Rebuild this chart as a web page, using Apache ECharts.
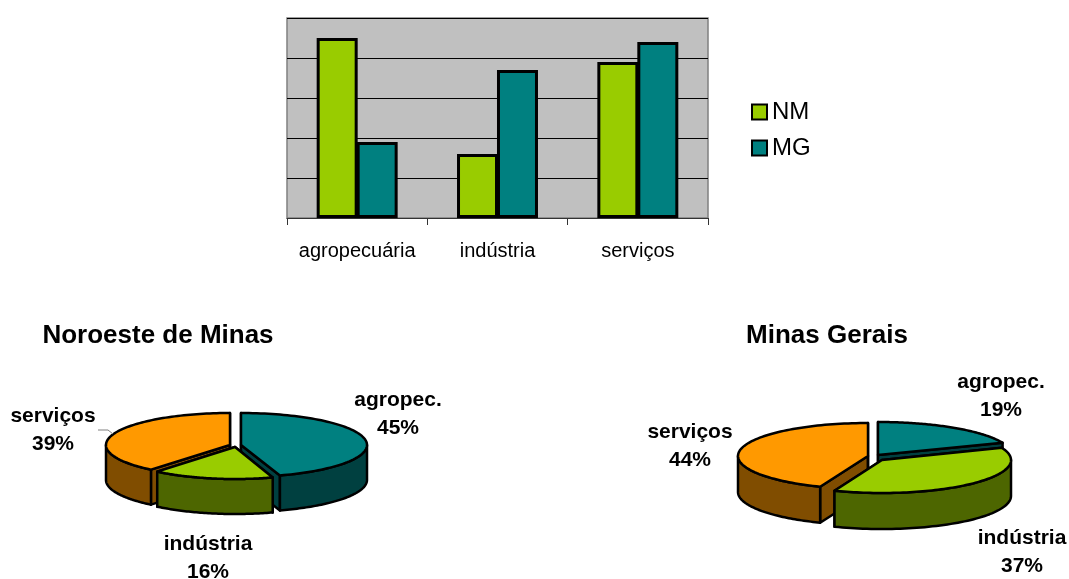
<!DOCTYPE html>
<html><head><meta charset="utf-8">
<script src="https://cdn.jsdelivr.net/npm/echarts@6/dist/echarts.min.js"></script>
<style>html,body{margin:0;padding:0;background:#fff}#c{width:1069px;height:579px}</style>
</head><body><div id="c"></div>
<script>
const categories = ['agropecuária', 'indústria', 'serviços'];
const nmValues = [45, 16, 39];
const mgValues = [19, 37, 44];
const pieLabels = ['agropec.', 'indústria', 'serviços'];
const tickValuesMax = 50;

const FONT = '"Liberation Sans", Arial, sans-serif';
const topColors = ['#008080', '#99CC00', '#FF9900'];
const sideColors = ['#004040', '#4D6600', '#804D00'];

const pieLeft = {
  values: nmValues, rx: [126, 122, 124], ry: 32, depth: 35, order: [2, 0, 1],
  apex: [[241, 445], [235, 447], [230, 445]],
  labelPos: [[398, 414], [208, 558], [53, 430]]
};
const pieRight = {
  values: mgValues, rx: [134, 129, 130], ry: 33, depth: 36, order: [0, 2, 1],
  apex: [[878, 455], [882, 460], [868, 456]],
  labelPos: [[1001, 396], [1022, 552], [690, 446]]
};

function slicePieces(pie, i) {
  const total = pie.values.reduce((a, b) => a + b, 0);
  let start = 0;
  for (let k = 0; k < i; k++) start += pie.values[k] / total * 2 * Math.PI;
  const end = start + pie.values[i] / total * 2 * Math.PI;
  const [cx, cy] = pie.apex[i];
  const rx = pie.rx[i];
  const pt = (t, dy) => [cx + rx * Math.sin(t), cy - pie.ry * Math.cos(t) + (dy || 0)];
  const lineStyle = c => ({ fill: c, stroke: '#000', lineWidth: 2.5, lineJoin: 'round' });
  const z = pie.order.indexOf(i) * 10;
  const els = [];
  const add = (points, c, dz) => els.push({
    type: 'polygon', shape: { points }, style: lineStyle(c), z2: z + dz, silent: true
  });
  // cut faces
  add([[cx, cy], pt(start), pt(start, pie.depth), [cx, cy + pie.depth]], sideColors[i], 1);
  add([[cx, cy], pt(end), pt(end, pie.depth), [cx, cy + pie.depth]], sideColors[i], 1);
  // outer wall: the part of the rim on the lower half of the ellipse
  const a = Math.max(start, Math.PI / 2), b = Math.min(end, Math.PI * 1.5);
  if (b > a) {
    const wall = [];
    for (let s = 0; s <= 60; s++) wall.push(pt(a + (b - a) * s / 60));
    for (let s = 60; s >= 0; s--) wall.push(pt(a + (b - a) * s / 60, pie.depth));
    add(wall, sideColors[i], 2);
  }
  // top face
  const topFace = [[cx, cy]];
  for (let s = 0; s <= 90; s++) topFace.push(pt(start + (end - start) * s / 90));
  add(topFace, topColors[i], 3);
  // label
  els.push({
    type: 'text', z2: 100, silent: true,
    style: {
      x: pie.labelPos[i][0], y: pie.labelPos[i][1],
      text: pieLabels[i] + '\n' + pie.values[i] + '%',
      align: 'center', verticalAlign: 'middle', textAlign: 'center', textVerticalAlign: 'middle',
      font: 'bold 21px ' + FONT, lineHeight: 28, fill: '#000'
    }
  });
  return { type: 'group', children: els };
}

function pieSeries(pie, name) {
  return {
    type: 'custom', name, coordinateSystem: 'none', silent: true,
    data: pie.values, clip: false,
    renderItem: params => slicePieces(pie, params.dataIndex)
  };
}

const barStyle = c => ({ color: c, borderColor: '#000', borderWidth: 3 });
const chart = echarts.init(document.getElementById('c'), null, { renderer: 'canvas' });
chart.setOption({
  animation: false,
  backgroundColor: '#fff',
  textStyle: { fontFamily: FONT },
  title: [
    { text: 'Noroeste de Minas', left: 153, top: 331, textAlign: 'center', textVerticalAlign: 'middle',
      textStyle: { fontFamily: FONT, fontWeight: 'bold', fontSize: 26, color: '#000' } },
    { text: 'Minas Gerais', left: 822, top: 331, textAlign: 'center', textVerticalAlign: 'middle',
      textStyle: { fontFamily: FONT, fontWeight: 'bold', fontSize: 26, color: '#000' } }
  ],
  legend: {
    data: ['NM', 'MG'], orient: 'vertical', left: 746, top: 95, itemWidth: 15, itemHeight: 15, itemGap: 12,
    icon: 'rect',
    textStyle: { fontFamily: FONT, fontSize: 24, color: '#000', padding: [0, 0, 0, 0] }
  },
  grid: { left: 287, top: 18, width: 421, height: 200, show: true, backgroundColor: '#C0C0C0', borderColor: '#808080', borderWidth: 1.5 },
  xAxis: {
    type: 'category', data: categories,
    axisLine: { lineStyle: { color: '#333', width: 1 } },
    axisTick: { show: true, length: 7, interval: 0, lineStyle: { color: '#333' }, alignWithLabel: false },
    axisLabel: { fontFamily: FONT, fontSize: 20, color: '#000', margin: 23, interval: 0, hideOverlap: false }
  },
  yAxis: {
    type: 'value', min: 0, max: tickValuesMax, interval: 10,
    axisLine: { show: false }, axisTick: { show: false }, axisLabel: { show: false },
    splitLine: { lineStyle: { color: '#000', width: 1 } }
  },
  series: [
    { type: 'bar', name: 'NM', data: nmValues, barWidth: 41, barGap: '-2.5%', itemStyle: barStyle('#99CC00') },
    { type: 'bar', name: 'MG', data: mgValues, barWidth: 41, barGap: '-2.5%', itemStyle: barStyle('#008080') },
    pieSeries(pieLeft, 'Noroeste de Minas pie'),
    pieSeries(pieRight, 'Minas Gerais pie')
  ],
  graphic: [{
    type: 'polyline', silent: true, z: 50,
    shape: { points: [[98, 430], [108, 430], [113, 434]] },
    style: { stroke: '#808080', lineWidth: 1, fill: null }
  }]
});
</script></body></html>
